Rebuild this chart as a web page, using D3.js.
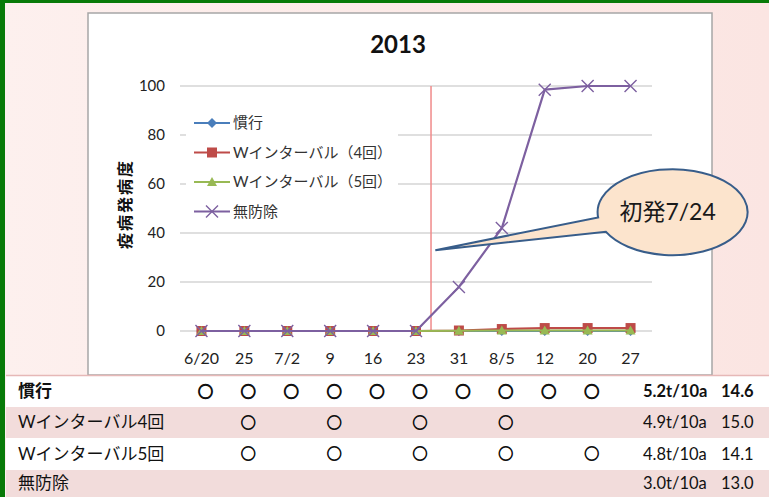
<!DOCTYPE html>
<html>
<head>
<meta charset="utf-8">
<script src="https://cdn.jsdelivr.net/npm/d3@7"></script>
<style>
	html, body { margin: 0; padding: 0; background: #fce9e6; }
	svg { display: block; }
	text { font-family: "Lato", "Noto Sans CJK JP", sans-serif; }
	text.cjk { font-family: "Noto Sans CJK JP", sans-serif; }
</style>
</head>
<body>
<div id="chart"></div>
<script>
/***********************************************************************/
//Data
/***********************************************************************/
const title = '2013'
const dates = ['6/20', '25', '7/2', '9', '16', '23', '31', '8/5', '12', '20', '27']
const yTicks = [0, 20, 40, 60, 80, 100]
const yLabel = '疫病発病度'

const seriesNames = ['慣行', 'Wインターバル（4回）', 'Wインターバル（5回）', '無防除']
const kanko = [0, 0, 0, 0, 0, 0, 0, 0, 0, 0, 0]
const wInt4 = [0, 0, 0, 0, 0, 0, 0.2, 0.8, 1.2, 1.2, 1.2]
const wInt5 = [0, 0, 0, 0, 0, 0, 0.1, 0.2, 0.2, 0.2, 0.2]
const mubojo = [0, 0, 0, 0, 0, 0, 18, 42, 98.5, 100, 100]

// onset 7/24 sits between 23 and 31 (index units)
const onsetIdx = 5.35
const callout = { text: '初発7/24', tipIdx: 5.45, tipVal: 33, cIdx: 10.98, cVal: 48.5 }

const rowNames = ['慣行', 'Wインターバル4回', 'Wインターバル5回', '無防除']
const sprayDates = [
	['6/20', '25', '7/2', '9', '16', '23', '31', '8/5', '12', '20'],
	['25', '9', '23', '8/5'],
	['25', '9', '23', '8/5', '20'],
	[]
]
const yields = ['5.2t/10a', '4.9t/10a', '4.8t/10a', '3.0t/10a']
const sugars = ['14.6', '15.0', '14.1', '13.0']

/***********************************************************************/
//Dom
/***********************************************************************/
const width = 769
const height = 497

const svg = d3.select('#chart')
	.append('svg')
	.attr('width', width)
	.attr('height', height)

const defs = svg.append('defs')
const grad = defs.append('linearGradient').attr('id', 'bg-grad')
grad.append('stop').attr('offset', '0%').attr('stop-color', '#fdf0ee')
grad.append('stop').attr('offset', '100%').attr('stop-color', '#fbe5e2')

svg.append('rect')
	.attr('width', width).attr('height', height)
	.attr('fill', 'url(#bg-grad)')

// chart box
const box = { left: 88, top: 13, right: 712, bottom: 375 }
svg.append('rect')
	.attr('x', box.left).attr('y', box.top)
	.attr('width', box.right - box.left).attr('height', box.bottom - box.top)
	.attr('fill', '#fff')
	.attr('stroke', '#a6a6a6')
	.attr('stroke-width', 1.5)

/***********************************************************************/
//Scale
/***********************************************************************/
const xScale = d3.scaleBand().domain(dates).range([180, 652])
const xc = d => xScale(d) + xScale.bandwidth() / 2
const xIdx = d3.scaleLinear().domain([0, dates.length - 1]).range([xc(dates[0]), xc(dates[dates.length - 1])])
const yScale = d3.scaleLinear().domain([0, 100]).range([331, 86])

/***********************************************************************/
//Axes
/***********************************************************************/
const g = svg.append('g')

g.append('g')
	.selectAll('line')
	.data(yTicks)
	.join('line')
	.attr('x1', 180).attr('x2', 652)
	.attr('y1', d => yScale(d)).attr('y2', d => yScale(d))
	.attr('stroke', '#bfbfbf')
	.attr('stroke-width', 1.2)

g.append('g')
	.selectAll('text')
	.data(yTicks)
	.join('text')
	.attr('x', 165)
	.attr('y', d => yScale(d))
	.attr('dy', '0.35em')
	.attr('text-anchor', 'end')
	.attr('font-size', 15)
	.attr('fill', '#222')
	.text(d => d)

g.append('g')
	.selectAll('text')
	.data(dates)
	.join('text')
	.attr('x', d => xc(d))
	.attr('y', 358)
	.attr('dy', '0.35em')
	.attr('text-anchor', 'middle')
	.attr('font-size', 16)
	.attr('fill', '#222')
	.text(d => d)

svg.append('text')
	.attr('transform', 'translate(125,204) rotate(-90)')
	.attr('text-anchor', 'middle')
	.attr('dy', '0.35em')
	.attr('font-size', 16)
	.attr('font-weight', 'bold')
	.attr('letter-spacing', 2)
	.attr('fill', '#111')
	.text(yLabel)

svg.append('text')
	.attr('x', 398).attr('y', 45)
	.attr('dy', '0.35em')
	.attr('text-anchor', 'middle')
	.attr('font-size', 24)
	.attr('font-weight', 'bold')
	.attr('fill', '#111')
	.text(title)

// onset line
g.append('line')
	.attr('x1', xIdx(onsetIdx)).attr('x2', xIdx(onsetIdx))
	.attr('y1', yScale(100)).attr('y2', yScale(0))
	.attr('stroke', '#f08a8a')
	.attr('stroke-width', 1.5)

/***********************************************************************/
//Plotting
/***********************************************************************/
const colors = ['#4a7ebb', '#be4b48', '#98b954', '#7d60a0']
const allSeries = [kanko, wInt4, wInt5, mubojo]

const marker = (sel, type, color) => {
	if (type === 0) {
		sel.append('path').attr('d', 'M0,-5L5,0L0,5L-5,0Z').attr('fill', color)
	} else if (type === 1) {
		sel.append('rect').attr('x', -5).attr('y', -5).attr('width', 10).attr('height', 10).attr('fill', color)
	} else if (type === 2) {
		sel.append('path').attr('d', 'M0,-5L5,4L-5,4Z').attr('fill', color)
	} else {
		sel.append('path').attr('d', 'M-6,-6L6,6M-6,6L6,-6').attr('stroke', color).attr('stroke-width', 1.4)
	}
}

const line = d3.line()
	.x((d, i) => xc(dates[i]))
	.y(d => yScale(d))

allSeries.forEach((data, s) => {
	const gs = g.append('g')
	gs.append('path')
		.datum(data)
		.attr('fill', 'none')
		.attr('stroke', colors[s])
		.attr('stroke-width', 2.2)
		.attr('stroke-linejoin', 'round')
		.attr('d', line)
	data.forEach((v, i) => {
		const m = gs.append('g').attr('transform', `translate(${xc(dates[i])},${yScale(v)})`)
		marker(m, s, colors[s])
	})
})

/***********************************************************************/
//Legend
/***********************************************************************/
const legend = svg.append('g')
legend.append('rect')
	.attr('x', 186).attr('y', 100).attr('width', 212).attr('height', 125)
	.attr('fill', '#fff')

seriesNames.forEach((name, i) => {
	const ly = 123 + i * 29.5
	legend.append('line')
		.attr('x1', 194).attr('x2', 230)
		.attr('y1', ly).attr('y2', ly)
		.attr('stroke', colors[i]).attr('stroke-width', 2.2)
	marker(legend.append('g').attr('transform', `translate(212,${ly})`), i, colors[i])
	legend.append('text')
		.attr('x', 233).attr('y', ly)
		.attr('dy', '0.35em')
		.attr('font-size', 15)
		.attr('fill', '#333')
		.text(name)
})

/***********************************************************************/
//Callout
/***********************************************************************/
const cx = xIdx(callout.cIdx)
const cy = yScale(callout.cVal)
const rx = 75, ry = 43
const ept = a => [cx + rx * Math.cos(a * Math.PI / 180), cy + ry * Math.sin(a * Math.PI / 180)]
const p1 = ept(173)
const p2 = ept(153)
const tip = [xIdx(callout.tipIdx), yScale(callout.tipVal)]

svg.append('path')
	.attr('d', `M${tip}L${p1}A${rx},${ry} 0 1 1 ${p2}Z`)
	.attr('fill', '#fce4cd')
	.attr('stroke', '#385d8a')
	.attr('stroke-width', 2)
	.attr('stroke-linejoin', 'miter')

svg.append('text')
	.attr('x', cx - 5).attr('y', cy)
	.attr('dy', '0.35em')
	.attr('text-anchor', 'middle')
	.attr('font-size', 23)
	.attr('fill', '#1a1a1a')
	.text(callout.text)

/***********************************************************************/
//Table
/***********************************************************************/
const rowTops = [376, 407, 438, 470, 497]
const table = svg.append('g')

rowNames.forEach((name, r) => {
	const top = rowTops[r]
	const h = rowTops[r + 1] - top
	const mid = top + h / 2
	const bold = r === 0 ? 'bold' : 'normal'
	table.append('rect')
		.attr('x', 6).attr('y', top)
		.attr('width', width - 6).attr('height', h)
		.attr('fill', r % 2 === 0 ? '#ffffff' : '#f2dcdb')
	table.append('text')
		.attr('x', 18).attr('y', mid)
		.attr('dy', '0.35em')
		.attr('font-size', 17)
		.attr('font-weight', bold)
		.attr('fill', '#111')
		.text(name)
	table.selectAll(null)
		.data(sprayDates[r])
		.join('text')
		.attr('class', 'cjk')
		.attr('x', d => xc(d) + 4)
		.attr('y', mid)
		.attr('dy', '0.35em')
		.attr('text-anchor', 'middle')
		.attr('font-size', 15)
		.attr('fill', '#111')
		.attr('stroke', '#111')
		.attr('stroke-width', r === 0 ? 1.3 : 0.8)
		.text('○')
	table.append('text')
		.attr('x', 643).attr('y', mid)
		.attr('dy', '0.35em')
		.attr('font-size', 16.5)
		.attr('font-weight', bold)
		.attr('fill', '#111')
		.text(yields[r])
	table.append('text')
		.attr('x', 721).attr('y', mid)
		.attr('dy', '0.35em')
		.attr('font-size', 16.5)
		.attr('font-weight', bold)
		.attr('fill', '#111')
		.text(sugars[r])
})

svg.append('line')
	.attr('x1', 6).attr('x2', width)
	.attr('y1', 375.5).attr('y2', 375.5)
	.attr('stroke', '#e6b8b7').attr('stroke-width', 1.5)

// frame
svg.append('rect').attr('x', 0).attr('y', 0).attr('width', 5).attr('height', height).attr('fill', '#087a08')
svg.append('rect').attr('x', 0).attr('y', 0).attr('width', width).attr('height', 3).attr('fill', '#087a08')
</script>
</body>
</html>
